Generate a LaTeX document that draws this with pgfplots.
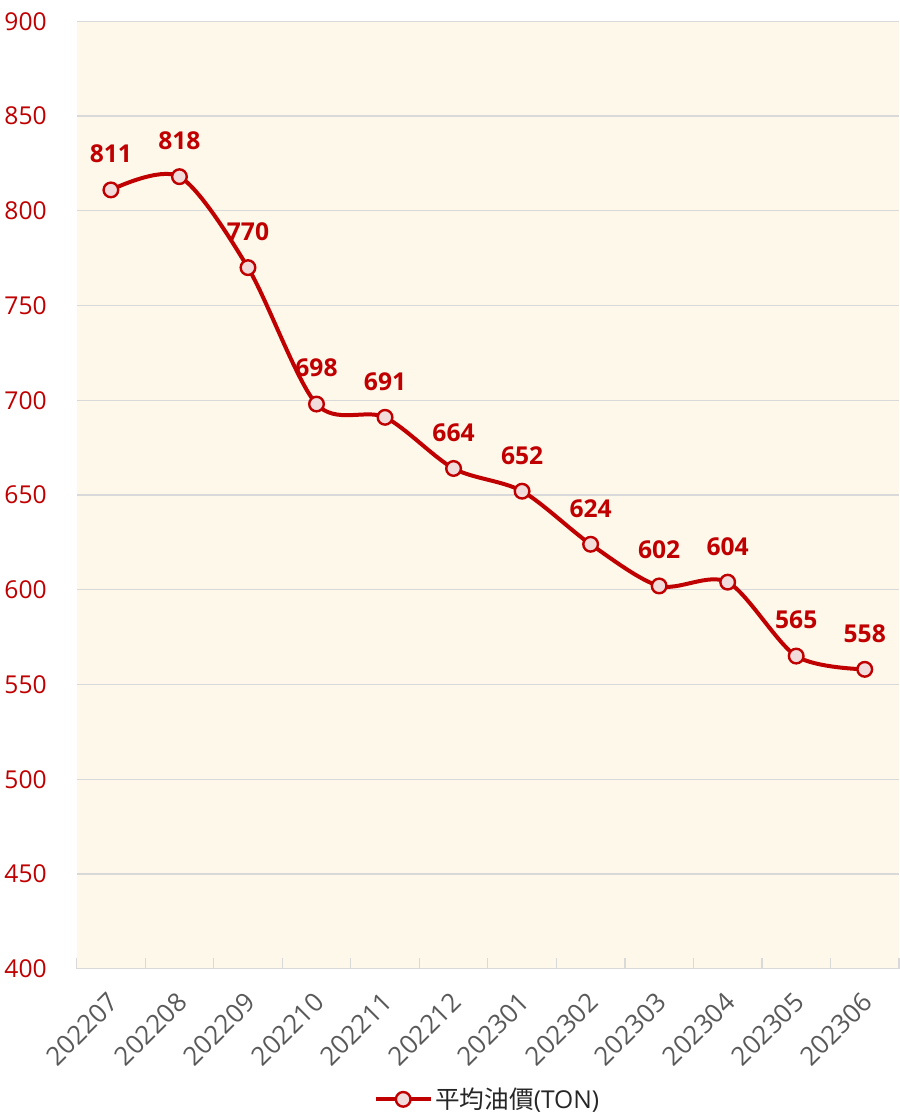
\documentclass[border=0pt]{standalone}
\usepackage{pgfplots}
\pgfplotsset{compat=1.18}
\usepackage{fontspec}
\setmainfont{Open Sans}
\newfontfamily\cjk{Noto Sans CJK TC}
\definecolor{darkred}{HTML}{C00000}
\definecolor{pinkfill}{HTML}{F2DCDB}
\definecolor{bgcream}{HTML}{FEF8EA}
\definecolor{gridgray}{HTML}{D9D9D9}
\definecolor{ticktext}{HTML}{595959}
\begin{document}
\begin{tikzpicture}
\begin{axis}[
  scale only axis,
  width=618pt, height=712pt,
  xmin=-0.5, xmax=11.5,
  ymin=400, ymax=900,
  ytick={400,450,...,900},
  xtick={0,...,11},
  xticklabels={202207,202208,202209,202210,202211,202212,202301,202302,202303,202304,202305,202306},
  minor xtick={-0.5,0.5,...,11.5},
  x tick label style={rotate=45, anchor=north east, font=\fontsize{19.5}{22}\selectfont, text=ticktext, inner sep=0pt, xshift=-13.8pt, yshift=-9.5pt},
  y tick label style={font=\fontsize{18.5}{21}\selectfont, text=darkred, xshift=-19pt},
  /pgf/number format/assume math mode=true,
  /pgf/number format/1000 sep={},
  axis background/.style={fill=bgcream},
  axis line style={draw=none},
  axis x line*=bottom,
  x axis line style={draw=gridgray, line width=1pt},
  ymajorgrids,
  grid style={gridgray, line width=1pt},
  major x tick style={draw=none},
  minor x tick style={draw=gridgray, line width=1pt},
  minor tick length=8pt,
  ytick style={draw=none},
  clip=false,
  legend style={at={(0.5,-0.12)}, anchor=north, draw=none, fill=none, font=\fontsize{18.5}{21}\selectfont, text=black!85},
  legend cell align=left,
  legend image code/.code={
    \draw[#1, mark=none] (0cm,0cm) -- (1.45cm,0cm);
    \draw[#1, only marks] plot coordinates {(0.725cm,0cm)};
  },
  nodes near coords,
  every node near coord/.append style={font=\bfseries\fontsize{18.5}{21}\selectfont, text=darkred, anchor=south, yshift=16pt},
]
\addplot[darkred, line width=3pt, smooth, tension=0.5, mark=*, mark size=5.5pt,
  mark options={fill=pinkfill, draw=darkred, line width=1.8pt}]
  coordinates {
  (0,811) (1,818) (2,770) (3,698) (4,691) (5,664)
  (6,652) (7,624) (8,602) (9,604) (10,565) (11,558)
  };
\addlegendentry{{\cjk 平均油價}(TON)}
\end{axis}
\path (current axis.north) ++(0,16pt);
\end{tikzpicture}
\end{document}
